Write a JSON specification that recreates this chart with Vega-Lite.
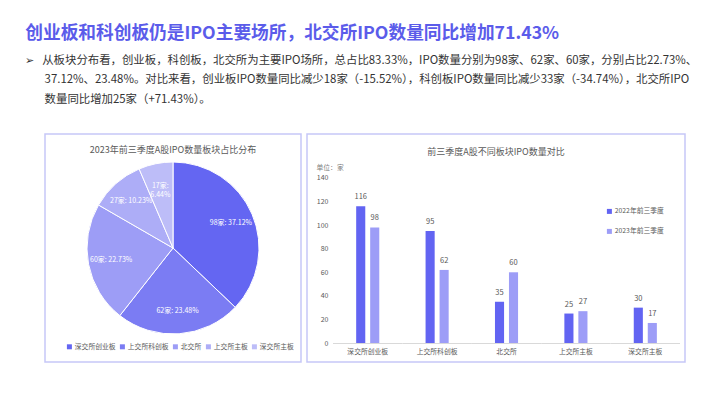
{
  "$schema": "https://vega.github.io/schema/vega-lite/v6.json",
  "background": "white",
  "padding": {"left": 25, "top": 25, "right": 0, "bottom": 0},
  "config": {
    "font": "Noto Sans CJK SC",
    "view": {"stroke": "#C6C7F8", "strokeWidth": 1.5},
    "concat": {"spacing": 4},
    "axis": {"labelOverlap": false, "labelBound": false}
  },
  "resolve": {"scale": {"color": "independent"}, "legend": {"color": "independent"}},
  "title": {
    "text": "创业板和科创板仍是IPO主要场所，北交所IPO数量同比增加71.43%",
    "subtitle": [
      "➢\u2002\u2009从板块分布看，创业板，科创板，北交所为主要IPO场所，总占比83.33%，IPO数量分别为98家、62家、60家，分别占比22.73%、",
      "\u200b\u2003\u2002\u200937.12%、23.48%。对比来看，创业板IPO数量同比减少18家（-15.52%），科创板IPO数量同比减少33家（-34.74%），北交所IPO",
      "\u200b\u2003\u2002\u2009数量同比增加25家（+71.43%）。"
    ],
    "anchor": "start",
    "dx": -19,
    "fontSize": 17.7,
    "fontWeight": "bold",
    "color": "#5B5CEA",
    "subtitleFontSize": 11.4,
    "subtitleColor": "#333333",
    "subtitleLineHeight": 19.5,
    "subtitlePadding": 12,
    "offset": 28
  },
  "hconcat": [
    {
      "width": 256,
      "height": 228,
      "view": {"stroke": "#C6C7F8", "strokeWidth": 1.5},
      "title": {
        "text": "2023年前三季度A股IPO数量板块占比分布",
        "offset": -21,
        "fontSize": 9,
        "fontWeight": "normal",
        "color": "#595959",
        "anchor": "middle"
      },
      "data": {
        "values": [
          {"board": "深交所创业板", "count": 98, "idx": 1, "label": "98家: 37.12%"},
          {"board": "上交所科创板", "count": 62, "idx": 2, "label": "62家: 23.48%"},
          {"board": "北交所", "count": 60, "idx": 3, "label": "60家: 22.73%"},
          {"board": "上交所主板", "count": 27, "idx": 4, "label": "27家: 10.23%"},
          {"board": "深交所主板", "count": 17, "idx": 5, "label": "17家:\n6.44%"}
        ]
      },
      "layer": [
        {
          "mark": {"type": "arc", "outerRadius": 86, "stroke": "white", "strokeWidth": 1},
          "encoding": {
            "theta": {"field": "count", "type": "quantitative", "stack": true},
            "order": {"field": "idx", "type": "quantitative"},
            "color": {
              "field": "board",
              "type": "nominal",
              "scale": {
                "domain": ["深交所创业板", "上交所科创板", "北交所", "上交所主板", "深交所主板"],
                "range": ["#6466F2", "#7B7CF3", "#9D9DF6", "#ADADF7", "#BDBDF8"]
              },
              "legend": {
                "orient": "none",
                "legendX": 21,
                "legendY": 209,
                "direction": "horizontal",
                "title": null,
                "symbolType": "square",
                "symbolSize": 25,
                "symbolStrokeWidth": 0,
                "labelFontSize": 6.8,
                "labelColor": "#595959",
                "labelOffset": 2,
                "columnPadding": 3
              }
            }
          }
        },
        {
          "mark": {"type": "text", "radius": 63, "fill": "white", "fontSize": 7, "lineBreak": "\n", "lineHeight": 9},
          "encoding": {
            "theta": {"field": "count", "type": "quantitative", "stack": true},
            "order": {"field": "idx", "type": "quantitative"},
            "text": {"field": "label", "type": "nominal"}
          }
        }
      ]
    },
    {
      "width": 378,
      "height": 228,
      "title": {
        "text": "前三季度A股不同板块IPO数量对比",
        "offset": -23,
        "fontSize": 9,
        "fontWeight": "normal",
        "color": "#595959",
        "anchor": "middle"
      },
      "data": {
        "values": [
          {"board": "深交所创业板", "year": "2022年前三季度", "count": 116},
          {"board": "深交所创业板", "year": "2023年前三季度", "count": 98},
          {"board": "上交所科创板", "year": "2022年前三季度", "count": 95},
          {"board": "上交所科创板", "year": "2023年前三季度", "count": 62},
          {"board": "北交所", "year": "2022年前三季度", "count": 35},
          {"board": "北交所", "year": "2023年前三季度", "count": 60},
          {"board": "上交所主板", "year": "2022年前三季度", "count": 25},
          {"board": "上交所主板", "year": "2023年前三季度", "count": 27},
          {"board": "深交所主板", "year": "2022年前三季度", "count": 30},
          {"board": "深交所主板", "year": "2023年前三季度", "count": 17}
        ]
      },
      "encoding": {
        "x": {
          "field": "board",
          "type": "nominal",
          "sort": ["深交所创业板", "上交所科创板", "北交所", "上交所主板", "深交所主板"],
          "scale": {"paddingInner": 0, "paddingOuter": 0.2235, "align": 0.839},
          "axis": {
            "orient": "bottom",
            "offset": -19,
            "title": null,
            "labelAngle": 0,
            "domain": false,
            "ticks": false,
            "labelPadding": 5,
            "labelFontSize": 6.8,
            "labelColor": "#595959"
          }
        },
        "y": {
          "field": "count",
          "type": "quantitative",
          "scale": {"domain": [-16.12, 177.33], "nice": false, "zero": false},
          "axis": {
            "orient": "left",
            "offset": -26,
            "values": [0, 20, 40, 60, 80, 100, 120, 140],
            "tickCount": 8,
            "labelOverlap": false,
            "domain": false,
            "ticks": false,
            "grid": false,
            "labelPadding": 5,
            "labelFontSize": 7,
            "labelColor": "#595959",
            "title": "单位：家",
            "titleAngle": 0,
            "titleAlign": "left",
            "titleBaseline": "middle",
            "titleX": -17,
            "titleY": 33,
            "titleFontSize": 6.8,
            "titleFontWeight": "normal",
            "titleColor": "#7F7F7F"
          }
        }
      },
      "layer": [
        {
          "transform": [{"filter": "datum.year === '2022年前三季度'"}],
          "mark": {"type": "rect", "color": "#D9D9D9"},
          "encoding": {
            "y": {"datum": 0, "type": "quantitative"},
            "y2": {"datum": -0.85}
          }
        },
        {
          "mark": {"type": "bar"},
          "encoding": {
            "xOffset": {"field": "year", "type": "nominal", "scale": {"paddingInner": 0.35, "paddingOuter": 0, "range": [23.15, 46.25]}},
            "color": {
              "field": "year",
              "type": "nominal",
              "scale": {"domain": ["2022年前三季度", "2023年前三季度"], "range": ["#6264F2", "#9D9DF7"]},
              "legend": {
                "orient": "none",
                "legendX": 299,
                "legendY": 74,
                "direction": "vertical",
                "title": null,
                "symbolType": "square",
                "symbolSize": 25,
                "symbolStrokeWidth": 0,
                "labelFontSize": 6.8,
                "labelColor": "#595959",
                "labelOffset": 2,
                "rowPadding": 12
              }
            }
          }
        },
        {
          "mark": {"type": "text", "dy": -5, "fontSize": 7.5, "color": "#595959", "baseline": "bottom"},
          "encoding": {
            "xOffset": {"field": "year", "type": "nominal"},
            "text": {"field": "count", "type": "quantitative"}
          }
        }
      ]
    }
  ]
}
